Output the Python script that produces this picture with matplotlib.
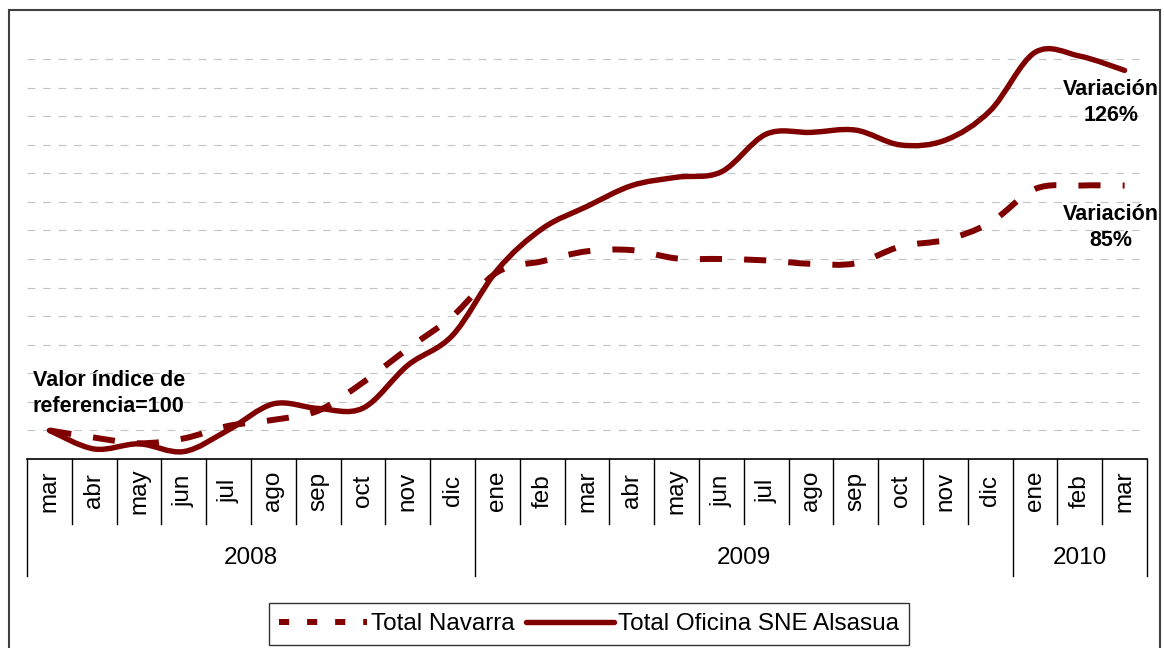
import matplotlib
matplotlib.use("Agg")
import matplotlib.pyplot as plt
import numpy as np
from matplotlib.path import Path
from matplotlib.patches import PathPatch, Rectangle
from matplotlib.lines import Line2D

plt.rcParams['font.family'] = ['Liberation Sans', 'DejaVu Sans']

# Data (index, mar 2008 = 100)
months = ['mar', 'abr', 'may', 'jun', 'jul', 'ago', 'sep', 'oct', 'nov', 'dic',
          'ene', 'feb', 'mar', 'abr', 'may', 'jun', 'jul', 'ago', 'sep', 'oct',
          'nov', 'dic', 'ene', 'feb', 'mar']
years = ['2008', '2009', '2010']
months_per_year = [10, 12, 3]

navarra = [100, 97.5, 95.5, 97.2, 101.6, 103.7, 106.9, 116.8, 128.6, 140,
           155.4, 159.2, 162.7, 163.1, 160.2, 160, 159.5, 158.3, 158.5, 164.4,
           166.7, 172.7, 184.5, 185.7, 185.7]
alsasua = [100, 93.5, 95.3, 92.6, 100.2, 109.3, 107.7, 107.8, 122.8, 133.3,
           156.2, 170.6, 178.4, 185.7, 188.6, 190.5, 203.7, 204.3, 205.1, 199.9,
           201.6, 211.9, 232.3, 231, 226]

RED = '#800000'
W, H = 1164, 648


def smooth_path(x, y):
    # Excel-like smoothed line: cubic Bezier through every data point
    p = np.column_stack([x, y]).astype(float)
    n = len(p)
    verts = [p[0]]
    codes = [Path.MOVETO]
    for i in range(n - 1):
        prev = p[i - 1] if i > 0 else p[i]
        nxt = p[i + 2] if i + 2 < n else p[i + 1]
        c1 = p[i] + (p[i + 1] - prev) / 6
        c2 = p[i + 1] - (nxt - p[i]) / 6
        verts += [c1, c2, p[i + 1]]
        codes += [Path.CURVE4] * 3
    return Path(verts, codes)


fig = plt.figure(figsize=(W / 100, H / 100), dpi=100)
ax_h = 459 - 30.4
ax = fig.add_axes([27 / W, (H - 459) / H, (1147 - 27) / W, ax_h / H])

x = np.arange(len(months))
ax.add_patch(PathPatch(smooth_path(x, navarra), fill=False, edgecolor=RED,
                       lw=4.3, linestyle=(0, (3.7, 3.7)), capstyle='butt'))
ax.add_patch(PathPatch(smooth_path(x, alsasua), fill=False, edgecolor=RED,
                       lw=3.9, capstyle='round', joinstyle='round'))

ax.set_xlim(-0.5, len(months) - 0.5)
ax.set_ylim(90, 240)
ax.set_yticks(np.arange(100, 231, 10))
ax.yaxis.grid(True, color='#c4c4c4', lw=0.8, linestyle=(0, (7, 7)))
ax.set_axisbelow(True)
ax.tick_params(length=0, labelleft=False, labelbottom=False)
for s in ['left', 'right', 'top']:
    ax.spines[s].set_visible(False)
ax.spines['bottom'].set_linewidth(1.2)

# category axis: months and years
tr = ax.get_xaxis_transform()
m_len = 65 / ax_h
y_len = 117 / ax_h
for i, m in enumerate(months):
    ax.text(i, -(491 - 459) / ax_h, m, transform=tr, rotation=90,
            ha='center', va='center', fontsize=17.5)
bounds = np.cumsum([0] + months_per_year) - 0.5
for b in np.arange(-0.5, len(months)):
    ln = y_len if b in bounds else m_len
    ax.plot([b, b], [0, -ln], transform=tr, color='black', lw=1,
            clip_on=False)
for yr, a, b in zip(years, bounds[:-1], bounds[1:]):
    ax.text((a + b) / 2, -(558 - 459) / ax_h, yr, transform=tr,
            ha='center', va='center', fontsize=17.5)

# annotations
fig.text(33 / W, 1 - 393.5 / H, 'Valor índice de\nreferencia=100',
         ha='left', va='center', fontsize=15.5, fontweight='bold',
         linespacing=1.25)
fig.text(1111 / W, 1 - 102.5 / H, 'Variación\n126%', ha='center',
         va='center', fontsize=15.5, fontweight='bold', linespacing=1.3)
fig.text(1111 / W, 1 - 227.5 / H, 'Variación\n85%', ha='center',
         va='center', fontsize=15.5, fontweight='bold', linespacing=1.3)

# legend
handles = [Line2D([], [], color=RED, lw=4.3, linestyle=(0, (1.7, 3.0)),
                  solid_capstyle='butt', dash_capstyle='butt'),
           Line2D([], [], color=RED, lw=3.9, solid_capstyle='round')]
leg = fig.legend(handles, ['Total Navarra', 'Total Oficina SNE Alsasua'],
                 loc='center', bbox_to_anchor=(589 / W, 1 - 624 / H),
                 ncol=2, fontsize=17.5, frameon=True, fancybox=False,
                 edgecolor='black', handlelength=3.6, handletextpad=0.15,
                 columnspacing=0.5, borderpad=0.42)
leg.get_frame().set_linewidth(1)

# chart border
fig.patches.append(Rectangle((9 / W, -0.05), (1160 - 9) / W, 1.05 - 10 / H,
                             transform=fig.transFigure, fill=False,
                             edgecolor='#404040', lw=1.5))

fig.savefig('out.png', dpi=100)
